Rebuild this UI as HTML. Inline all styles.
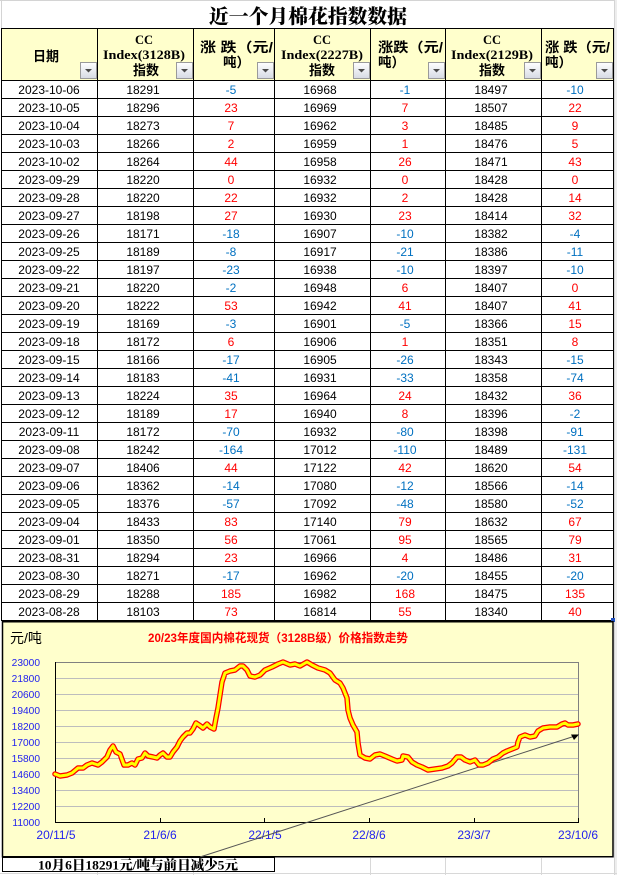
<!DOCTYPE html>
<html><head><meta charset="utf-8"><style>
html,body{margin:0;padding:0;background:#fff;}
svg{display:block;}
.d{font-family:"Liberation Sans","Noto Sans CJK SC",sans-serif;font-size:12px;fill:#000;text-anchor:middle;}
.r{fill:#FF0000;}
.b{fill:#0070C0;}
.hm{font-family:"Liberation Serif",serif;font-weight:bold;font-size:12.5px;text-anchor:middle;fill:#000;}
.hc{font-family:"Liberation Sans","Noto Sans CJK SC",sans-serif;font-weight:bold;font-size:13.5px;fill:#000;}
.yl{font-family:"Liberation Sans",sans-serif;font-size:10.2px;fill:#2222EE;text-anchor:end;}
.xl{font-family:"Liberation Sans",sans-serif;font-size:12px;fill:#2222EE;text-anchor:middle;}
</style></head><body>
<svg width="617" height="875" viewBox="0 0 617 875" xmlns="http://www.w3.org/2000/svg">
<defs>
<linearGradient id="btn" x1="0" y1="0" x2="0" y2="1"><stop offset="0" stop-color="#FFFFFF"/><stop offset="1" stop-color="#D6DAE4"/></linearGradient>
</defs>
<line x1="0" y1="0.5" x2="617" y2="0.5" stroke="#D4D4D4"/>
<line x1="1.5" y1="0" x2="1.5" y2="28" stroke="#D4D4D4"/>
<line x1="614.5" y1="0" x2="614.5" y2="875" stroke="#D4D4D4"/>
<rect x="615" y="0" width="2" height="875" fill="#EDEDED"/>
<text x="308" y="23" text-anchor="middle" font-family="'Liberation Serif','Noto Serif CJK SC',serif" font-weight="900" font-size="19.5" textLength="198" lengthAdjust="spacingAndGlyphs">近一个月棉花指数数据</text>
<rect x="1.5" y="28.5" width="612" height="52" fill="#FFFFCC"/>
<text class="hc" x="33" y="61" font-size="14" textLength="26" lengthAdjust="spacingAndGlyphs">日期</text>
<text class="hm" x="144" y="44">CC</text>
<text class="hm" x="144" y="59" textLength="82" lengthAdjust="spacingAndGlyphs">Index(3128B)</text>
<text class="hc" x="133" y="75" textLength="26" lengthAdjust="spacingAndGlyphs">指数</text>
<text class="hc" x="200" y="52" textLength="73" lengthAdjust="spacingAndGlyphs">涨 跌（元/</text>
<text class="hc" x="223" y="67">吨）</text>
<text class="hm" x="322" y="44">CC</text>
<text class="hm" x="322" y="59" textLength="82" lengthAdjust="spacingAndGlyphs">Index(2227B)</text>
<text class="hc" x="309" y="75" textLength="26" lengthAdjust="spacingAndGlyphs">指数</text>
<text class="hc" x="378" y="52" textLength="65" lengthAdjust="spacingAndGlyphs">涨跌（元/</text>
<text class="hc" x="378" y="67">吨）</text>
<text class="hm" x="492" y="44">CC</text>
<text class="hm" x="492" y="59" textLength="82" lengthAdjust="spacingAndGlyphs">Index(2129B)</text>
<text class="hc" x="479" y="75" textLength="26" lengthAdjust="spacingAndGlyphs">指数</text>
<text class="hc" x="545" y="52" textLength="65" lengthAdjust="spacingAndGlyphs">涨 跌（元/</text>
<text class="hc" x="545" y="67">吨）</text>
<g stroke="#9A9A9A" fill="url(#btn)">
<rect x="80.5" y="62.5" width="16" height="16"/>
<rect x="176.5" y="62.5" width="16" height="16"/>
<rect x="257.5" y="62.5" width="16" height="16"/>
<rect x="353.5" y="62.5" width="16" height="16"/>
<rect x="428.5" y="62.5" width="16" height="16"/>
<rect x="524.5" y="62.5" width="16" height="16"/>
<rect x="596.5" y="62.5" width="16" height="16"/>
</g>
<g fill="#4A4A4A">
<polygon points="85,69 92,69 88.5,72.5"/>
<polygon points="181,69 188,69 184.5,72.5"/>
<polygon points="262,69 269,69 265.5,72.5"/>
<polygon points="358,69 365,69 361.5,72.5"/>
<polygon points="433,69 440,69 436.5,72.5"/>
<polygon points="529,69 536,69 532.5,72.5"/>
<polygon points="601,69 608,69 604.5,72.5"/>
</g>
<g stroke="#000" stroke-width="1">
<line x1="1" y1="28.5" x2="614" y2="28.5"/>
<line x1="1.5" y1="28" x2="1.5" y2="621"/>
<line x1="97.5" y1="28" x2="97.5" y2="621"/>
<line x1="193.5" y1="28" x2="193.5" y2="621"/>
<line x1="274.5" y1="28" x2="274.5" y2="621"/>
<line x1="370.5" y1="28" x2="370.5" y2="621"/>
<line x1="445.5" y1="28" x2="445.5" y2="621"/>
<line x1="541.5" y1="28" x2="541.5" y2="621"/>
<line x1="613.5" y1="28" x2="613.5" y2="621"/>
<line x1="1" y1="80.5" x2="614" y2="80.5"/>
<line x1="1" y1="98.5" x2="614" y2="98.5"/>
<line x1="1" y1="116.5" x2="614" y2="116.5"/>
<line x1="1" y1="134.5" x2="614" y2="134.5"/>
<line x1="1" y1="152.5" x2="614" y2="152.5"/>
<line x1="1" y1="170.5" x2="614" y2="170.5"/>
<line x1="1" y1="188.5" x2="614" y2="188.5"/>
<line x1="1" y1="206.5" x2="614" y2="206.5"/>
<line x1="1" y1="224.5" x2="614" y2="224.5"/>
<line x1="1" y1="242.5" x2="614" y2="242.5"/>
<line x1="1" y1="260.5" x2="614" y2="260.5"/>
<line x1="1" y1="278.5" x2="614" y2="278.5"/>
<line x1="1" y1="296.5" x2="614" y2="296.5"/>
<line x1="1" y1="314.5" x2="614" y2="314.5"/>
<line x1="1" y1="332.5" x2="614" y2="332.5"/>
<line x1="1" y1="350.5" x2="614" y2="350.5"/>
<line x1="1" y1="368.5" x2="614" y2="368.5"/>
<line x1="1" y1="386.5" x2="614" y2="386.5"/>
<line x1="1" y1="404.5" x2="614" y2="404.5"/>
<line x1="1" y1="422.5" x2="614" y2="422.5"/>
<line x1="1" y1="440.5" x2="614" y2="440.5"/>
<line x1="1" y1="458.5" x2="614" y2="458.5"/>
<line x1="1" y1="476.5" x2="614" y2="476.5"/>
<line x1="1" y1="494.5" x2="614" y2="494.5"/>
<line x1="1" y1="512.5" x2="614" y2="512.5"/>
<line x1="1" y1="530.5" x2="614" y2="530.5"/>
<line x1="1" y1="548.5" x2="614" y2="548.5"/>
<line x1="1" y1="566.5" x2="614" y2="566.5"/>
<line x1="1" y1="584.5" x2="614" y2="584.5"/>
<line x1="1" y1="602.5" x2="614" y2="602.5"/>
<line x1="1" y1="620.5" x2="614" y2="620.5"/>
</g>
<g class="d">
<text x="49" y="94">2023-10-06</text><text x="143" y="94">18291</text><text x="231" y="94" class="b">-5</text><text x="320" y="94">16968</text><text x="405" y="94" class="b">-1</text><text x="491" y="94">18497</text><text x="575" y="94" class="b">-10</text>
<text x="49" y="112">2023-10-05</text><text x="143" y="112">18296</text><text x="231" y="112" class="r">23</text><text x="320" y="112">16969</text><text x="405" y="112" class="r">7</text><text x="491" y="112">18507</text><text x="575" y="112" class="r">22</text>
<text x="49" y="130">2023-10-04</text><text x="143" y="130">18273</text><text x="231" y="130" class="r">7</text><text x="320" y="130">16962</text><text x="405" y="130" class="r">3</text><text x="491" y="130">18485</text><text x="575" y="130" class="r">9</text>
<text x="49" y="148">2023-10-03</text><text x="143" y="148">18266</text><text x="231" y="148" class="r">2</text><text x="320" y="148">16959</text><text x="405" y="148" class="r">1</text><text x="491" y="148">18476</text><text x="575" y="148" class="r">5</text>
<text x="49" y="166">2023-10-02</text><text x="143" y="166">18264</text><text x="231" y="166" class="r">44</text><text x="320" y="166">16958</text><text x="405" y="166" class="r">26</text><text x="491" y="166">18471</text><text x="575" y="166" class="r">43</text>
<text x="49" y="184">2023-09-29</text><text x="143" y="184">18220</text><text x="231" y="184" class="r">0</text><text x="320" y="184">16932</text><text x="405" y="184" class="r">0</text><text x="491" y="184">18428</text><text x="575" y="184" class="r">0</text>
<text x="49" y="202">2023-09-28</text><text x="143" y="202">18220</text><text x="231" y="202" class="r">22</text><text x="320" y="202">16932</text><text x="405" y="202" class="r">2</text><text x="491" y="202">18428</text><text x="575" y="202" class="r">14</text>
<text x="49" y="220">2023-09-27</text><text x="143" y="220">18198</text><text x="231" y="220" class="r">27</text><text x="320" y="220">16930</text><text x="405" y="220" class="r">23</text><text x="491" y="220">18414</text><text x="575" y="220" class="r">32</text>
<text x="49" y="238">2023-09-26</text><text x="143" y="238">18171</text><text x="231" y="238" class="b">-18</text><text x="320" y="238">16907</text><text x="405" y="238" class="b">-10</text><text x="491" y="238">18382</text><text x="575" y="238" class="b">-4</text>
<text x="49" y="256">2023-09-25</text><text x="143" y="256">18189</text><text x="231" y="256" class="b">-8</text><text x="320" y="256">16917</text><text x="405" y="256" class="b">-21</text><text x="491" y="256">18386</text><text x="575" y="256" class="b">-11</text>
<text x="49" y="274">2023-09-22</text><text x="143" y="274">18197</text><text x="231" y="274" class="b">-23</text><text x="320" y="274">16938</text><text x="405" y="274" class="b">-10</text><text x="491" y="274">18397</text><text x="575" y="274" class="b">-10</text>
<text x="49" y="292">2023-09-21</text><text x="143" y="292">18220</text><text x="231" y="292" class="b">-2</text><text x="320" y="292">16948</text><text x="405" y="292" class="r">6</text><text x="491" y="292">18407</text><text x="575" y="292" class="r">0</text>
<text x="49" y="310">2023-09-20</text><text x="143" y="310">18222</text><text x="231" y="310" class="r">53</text><text x="320" y="310">16942</text><text x="405" y="310" class="r">41</text><text x="491" y="310">18407</text><text x="575" y="310" class="r">41</text>
<text x="49" y="328">2023-09-19</text><text x="143" y="328">18169</text><text x="231" y="328" class="b">-3</text><text x="320" y="328">16901</text><text x="405" y="328" class="b">-5</text><text x="491" y="328">18366</text><text x="575" y="328" class="r">15</text>
<text x="49" y="346">2023-09-18</text><text x="143" y="346">18172</text><text x="231" y="346" class="r">6</text><text x="320" y="346">16906</text><text x="405" y="346" class="r">1</text><text x="491" y="346">18351</text><text x="575" y="346" class="r">8</text>
<text x="49" y="364">2023-09-15</text><text x="143" y="364">18166</text><text x="231" y="364" class="b">-17</text><text x="320" y="364">16905</text><text x="405" y="364" class="b">-26</text><text x="491" y="364">18343</text><text x="575" y="364" class="b">-15</text>
<text x="49" y="382">2023-09-14</text><text x="143" y="382">18183</text><text x="231" y="382" class="b">-41</text><text x="320" y="382">16931</text><text x="405" y="382" class="b">-33</text><text x="491" y="382">18358</text><text x="575" y="382" class="b">-74</text>
<text x="49" y="400">2023-09-13</text><text x="143" y="400">18224</text><text x="231" y="400" class="r">35</text><text x="320" y="400">16964</text><text x="405" y="400" class="r">24</text><text x="491" y="400">18432</text><text x="575" y="400" class="r">36</text>
<text x="49" y="418">2023-09-12</text><text x="143" y="418">18189</text><text x="231" y="418" class="r">17</text><text x="320" y="418">16940</text><text x="405" y="418" class="r">8</text><text x="491" y="418">18396</text><text x="575" y="418" class="b">-2</text>
<text x="49" y="436">2023-09-11</text><text x="143" y="436">18172</text><text x="231" y="436" class="b">-70</text><text x="320" y="436">16932</text><text x="405" y="436" class="b">-80</text><text x="491" y="436">18398</text><text x="575" y="436" class="b">-91</text>
<text x="49" y="454">2023-09-08</text><text x="143" y="454">18242</text><text x="231" y="454" class="b">-164</text><text x="320" y="454">17012</text><text x="405" y="454" class="b">-110</text><text x="491" y="454">18489</text><text x="575" y="454" class="b">-131</text>
<text x="49" y="472">2023-09-07</text><text x="143" y="472">18406</text><text x="231" y="472" class="r">44</text><text x="320" y="472">17122</text><text x="405" y="472" class="r">42</text><text x="491" y="472">18620</text><text x="575" y="472" class="r">54</text>
<text x="49" y="490">2023-09-06</text><text x="143" y="490">18362</text><text x="231" y="490" class="b">-14</text><text x="320" y="490">17080</text><text x="405" y="490" class="b">-12</text><text x="491" y="490">18566</text><text x="575" y="490" class="b">-14</text>
<text x="49" y="508">2023-09-05</text><text x="143" y="508">18376</text><text x="231" y="508" class="b">-57</text><text x="320" y="508">17092</text><text x="405" y="508" class="b">-48</text><text x="491" y="508">18580</text><text x="575" y="508" class="b">-52</text>
<text x="49" y="526">2023-09-04</text><text x="143" y="526">18433</text><text x="231" y="526" class="r">83</text><text x="320" y="526">17140</text><text x="405" y="526" class="r">79</text><text x="491" y="526">18632</text><text x="575" y="526" class="r">67</text>
<text x="49" y="544">2023-09-01</text><text x="143" y="544">18350</text><text x="231" y="544" class="r">56</text><text x="320" y="544">17061</text><text x="405" y="544" class="r">95</text><text x="491" y="544">18565</text><text x="575" y="544" class="r">79</text>
<text x="49" y="562">2023-08-31</text><text x="143" y="562">18294</text><text x="231" y="562" class="r">23</text><text x="320" y="562">16966</text><text x="405" y="562" class="r">4</text><text x="491" y="562">18486</text><text x="575" y="562" class="r">31</text>
<text x="49" y="580">2023-08-30</text><text x="143" y="580">18271</text><text x="231" y="580" class="b">-17</text><text x="320" y="580">16962</text><text x="405" y="580" class="b">-20</text><text x="491" y="580">18455</text><text x="575" y="580" class="b">-20</text>
<text x="49" y="598">2023-08-29</text><text x="143" y="598">18288</text><text x="231" y="598" class="r">185</text><text x="320" y="598">16982</text><text x="405" y="598" class="r">168</text><text x="491" y="598">18475</text><text x="575" y="598" class="r">135</text>
<text x="49" y="616">2023-08-28</text><text x="143" y="616">18103</text><text x="231" y="616" class="r">73</text><text x="320" y="616">16814</text><text x="405" y="616" class="r">55</text><text x="491" y="616">18340</text><text x="575" y="616" class="r">40</text>
</g>
<rect x="611" y="618" width="4" height="4" fill="#2050C0"/>

<rect x="2.5" y="621.75" width="610.5" height="235" fill="#FFFFCC" stroke="#000" stroke-width="1.5"/>
<text x="10" y="643" font-family="'Liberation Sans','Noto Sans CJK SC',sans-serif" font-size="14" fill="#000">元/吨</text>
<text x="148" y="642" font-family="'Liberation Sans','Noto Sans CJK SC',sans-serif" font-weight="bold" font-size="12" fill="#FF0000" textLength="260" lengthAdjust="spacingAndGlyphs">20/23年度国内棉花现货（3128B级）价格指数走势</text>
<g stroke="#BDBDBD" stroke-width="1">
<line x1="55" y1="678.5" x2="578" y2="678.5"/>
<line x1="55" y1="694.5" x2="578" y2="694.5"/>
<line x1="55" y1="710.5" x2="578" y2="710.5"/>
<line x1="55" y1="726.5" x2="578" y2="726.5"/>
<line x1="55" y1="742.5" x2="578" y2="742.5"/>
<line x1="55" y1="758.5" x2="578" y2="758.5"/>
<line x1="55" y1="774.5" x2="578" y2="774.5"/>
<line x1="55" y1="790.5" x2="578" y2="790.5"/>
<line x1="55" y1="806.5" x2="578" y2="806.5"/>
</g>
<line x1="55" y1="662.5" x2="578.5" y2="662.5" stroke="#808080"/>
<line x1="578.5" y1="662" x2="578.5" y2="822" stroke="#808080"/>
<line x1="55.5" y1="662" x2="55.5" y2="822.5" stroke="#000"/>
<line x1="55" y1="822.5" x2="579" y2="822.5" stroke="#000"/>
<g stroke="#000">
<line x1="160.5" y1="818" x2="160.5" y2="822"/>
<line x1="264.5" y1="818" x2="264.5" y2="822"/>
<line x1="369.5" y1="818" x2="369.5" y2="822"/>
<line x1="474.5" y1="818" x2="474.5" y2="822"/>
<line x1="578.5" y1="818" x2="578.5" y2="822"/>
</g>
<g class="yl">
<text x="40" y="666">23000</text>
<text x="40" y="682">21800</text>
<text x="40" y="698">20600</text>
<text x="40" y="714">19400</text>
<text x="40" y="730">18200</text>
<text x="40" y="746">17000</text>
<text x="40" y="762">15800</text>
<text x="40" y="778">14600</text>
<text x="40" y="794">13400</text>
<text x="40" y="810">12200</text>
<text x="40" y="826">11000</text>
</g>
<g class="xl">
<text x="56" y="839">20/11/5</text>
<text x="160" y="839">21/6/6</text>
<text x="265" y="839">22/1/5</text>
<text x="369" y="839">22/8/6</text>
<text x="474" y="839">23/3/7</text>
<text x="578" y="839">23/10/6</text>
</g>
<line x1="200" y1="857" x2="575" y2="736" stroke="#555" stroke-width="1"/>
<polygon points="579,734.5 571,734.5 574,740" fill="#000"/>
<polyline fill="none" stroke="#FF0000" stroke-width="5.5" stroke-linejoin="round" stroke-linecap="round" points="55,774 60,776 67,775 72,773 78,768 83,768 87,765 92,763 98,765 102,762 107,757 110,750 113,746 116,752 120,754 124,765 128,765 132,763 135,765 138,759 142,758 145,753 148,756 153,757 157,758 160,755 163,753 167,757 170,757 173,752 177,747 180,741 183,737 187,733 190,733 193,729 196,723 199,725 203,728 207,724 210,727 214,729 216,718 218,708 220,695 222,682 225,673 230,671 235,670 240,666 243,666 247,670 250,676 255,677 260,675 265,670 272,667 278,664 283,662 290,665 295,664 300,666 307,662 312,665 318,668 325,670 330,673 335,680 340,683 343,688 347,698 348,710 350,718 353,725 357,732 358,743 360,755 365,758 370,759 375,755 380,754 385,756 392,759 397,761 402,760 403,756 408,757 412,762 417,765 422,767 428,770 435,769 442,768 448,766 452,763 457,757 461,757 465,760 470,762 475,760 479,765 483,765 488,763 493,759 498,757 503,753 507,751 512,749 517,747 518,742 520,737 525,735 530,737 535,736 538,731 543,728 550,727 557,727 562,724 565,723 568,725 573,725 578,724"/>
<polyline fill="none" stroke="#FFFF00" stroke-width="3" stroke-linejoin="round" stroke-linecap="round" points="55,774 60,776 67,775 72,773 78,768 83,768 87,765 92,763 98,765 102,762 107,757 110,750 113,746 116,752 120,754 124,765 128,765 132,763 135,765 138,759 142,758 145,753 148,756 153,757 157,758 160,755 163,753 167,757 170,757 173,752 177,747 180,741 183,737 187,733 190,733 193,729 196,723 199,725 203,728 207,724 210,727 214,729 216,718 218,708 220,695 222,682 225,673 230,671 235,670 240,666 243,666 247,670 250,676 255,677 260,675 265,670 272,667 278,664 283,662 290,665 295,664 300,666 307,662 312,665 318,668 325,670 330,673 335,680 340,683 343,688 347,698 348,710 350,718 353,725 357,732 358,743 360,755 365,758 370,759 375,755 380,754 385,756 392,759 397,761 402,760 403,756 408,757 412,762 417,765 422,767 428,770 435,769 442,768 448,766 452,763 457,757 461,757 465,760 470,762 475,760 479,765 483,765 488,763 493,759 498,757 503,753 507,751 512,749 517,747 518,742 520,737 525,735 530,737 535,736 538,731 543,728 550,727 557,727 562,724 565,723 568,725 573,725 578,724"/>
<g stroke="#D8D8D8">
<line x1="0" y1="873.5" x2="617" y2="873.5"/>
<line x1="97.5" y1="872" x2="97.5" y2="875"/>
<line x1="193.5" y1="872" x2="193.5" y2="875"/>
<line x1="370.5" y1="858" x2="370.5" y2="875"/>
<line x1="445.5" y1="858" x2="445.5" y2="875"/>
<line x1="541.5" y1="858" x2="541.5" y2="875"/>
</g>
<rect x="2.5" y="857.5" width="272" height="14" fill="#FFFFFF" stroke="#000" stroke-width="1"/>
<text x="38" y="869.5" font-family="'Liberation Serif','Noto Serif CJK SC',serif" font-weight="900" font-size="13" fill="#000" textLength="200" lengthAdjust="spacingAndGlyphs">10月6日18291元/吨与前日减少5元</text>
</svg>
</body></html>
